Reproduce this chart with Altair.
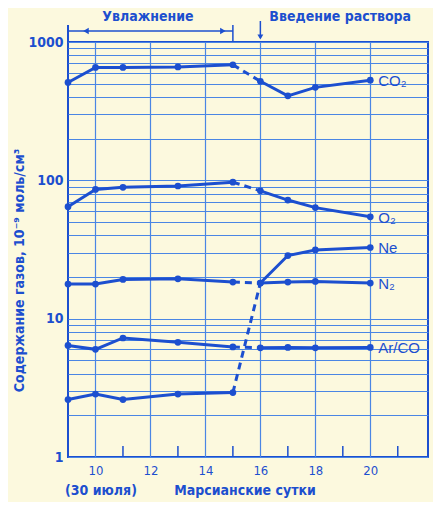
import altair as alt
import pandas as pd

# ---- data ----
days = [9, 10, 11, 13, 15, 16, 17, 18, 20]
series = ["CO₂", "O₂", "Ne", "N₂", "Ar/CO"]
co2 = [510, 655, 655, 660, 685, 520, 408, 470, 530]
o2 = [64.5, 86, 89, 91, 97, 84, 72, 63.5, 54.5]
ne = [2.6, 2.85, 2.6, 2.85, 2.92, 18.1, 28.6, 31.4, 32.7]
n2 = [17.8, 17.8, 19.2, 19.4, 18.4, 18.1, 18.4, 18.6, 18.1]
arco = [6.4, 6.0, 7.25, 6.75, 6.25, 6.15, 6.2, 6.15, 6.2]
last_wet_day = 15          # end of "Увлажнение"
solution_day = 16          # "Введение раствора"
x_ticks = [10, 12, 14, 16, 18, 20]
x_minor = [11, 13, 15, 17, 19, 21]
y_major = [1, 10, 100, 1000]

values = dict(zip(series, [co2, o2, ne, n2, arco]))

rows = []
for s in series:
    for d, v in zip(days, values[s]):
        rows.append({"series": s, "day": d, "value": v,
                     "seg": s + ("_a" if d <= last_wet_day else "_b")})
df = pd.DataFrame(rows)
dash_df = df[(df.day == last_wet_day) | (df.day == solution_day)]
lab_df = df[df.day == days[-1]]

y_vals = [m * 10 ** e for e in range(3) for m in range(1, 10)] + [1000]

BLUE = "#1c4fcf"
GRID = "#4a86e4"
FONT = "DejaVu Sans Condensed"

xs = alt.Scale(domain=[9, 22.1], nice=False, zero=False)
ys = alt.Scale(type="log", domain=[1, 1000], nice=False)

X = alt.X("day:Q", scale=xs, axis=alt.Axis(
    values=x_ticks, grid=True, ticks=False, domain=False, title=None,
    labelFontSize=13, labelPadding=7, labelColor=BLUE, labelFont=FONT,
    gridColor=GRID, gridWidth=1.2))
Y = alt.Y("value:Q", scale=ys, axis=alt.Axis(
    values=y_vals, grid=True, ticks=False, domain=False,
    labelExpr="(datum.value==1||datum.value==10||datum.value==100||datum.value==1000) ? format(datum.value,'d') : ''",
    labelFontSize=14, labelFontWeight="bold", labelFont=FONT, labelColor=BLUE,
    labelPadding=5, gridColor=GRID, gridWidth=1,
    title="Содержание газов, 10⁻⁹ моль/см³", titleFont=FONT,
    titleFontSize=14, titleFontWeight="bold", titleColor=BLUE,
    titlePadding=1, titleY=228))

solid = alt.Chart(df).mark_line(color=BLUE, strokeWidth=3).encode(
    x=X, y=Y, detail="seg:N")
dashed = alt.Chart(dash_df).mark_line(color=BLUE, strokeWidth=3, strokeDash=[7, 5]).encode(
    x="day:Q", y="value:Q", detail="series:N")
pts = alt.Chart(df).mark_point(filled=True, size=45, color=BLUE, opacity=1).encode(
    x="day:Q", y="value:Q")
labels = alt.Chart(lab_df).mark_text(align="left", dx=8, dy=1, fontSize=15,
                                     color=BLUE, font="Liberation Sans").encode(
    x="day:Q", y="value:Q", text="series:N")

minor = alt.Chart(pd.DataFrame({"day": x_minor})).mark_rule(
    color=BLUE, strokeWidth=1.5).encode(x="day:Q", y=alt.value(415), y2=alt.value(404))

# top annotations
ann = pd.DataFrame({"a": [9], "b": [last_wet_day], "c": [solution_day]})
bar_l = alt.Chart(ann).mark_rule(color=BLUE, strokeWidth=2).encode(
    x="a:Q", y=alt.value(-17), y2=alt.value(0))
bar_r = alt.Chart(ann).mark_rule(color=BLUE, strokeWidth=1.5).encode(
    x="b:Q", y=alt.value(-17), y2=alt.value(0))
h_arrow = alt.Chart(ann).mark_rule(color=BLUE, strokeWidth=1.5).encode(
    x="a:Q", x2="b:Q", y=alt.value(-11))
head_l = alt.Chart(ann).mark_point(shape="triangle-left", filled=True, size=40,
                                   color=BLUE, opacity=1).encode(
    x="a:Q", xOffset=alt.value(18), y=alt.value(-11))
head_r = alt.Chart(ann).mark_point(shape="triangle-right", filled=True, size=40,
                                   color=BLUE, opacity=1).encode(
    x="b:Q", xOffset=alt.value(-10), y=alt.value(-11))
t_wet = alt.Chart(ann).mark_text(text="Увлажнение", fontSize=14, fontWeight="bold",
                                 font=FONT, color=BLUE).encode(
    x=alt.value(80), y=alt.value(-25))
v_arrow = alt.Chart(ann).mark_rule(color=BLUE, strokeWidth=1.5).encode(
    x="c:Q", y=alt.value(-21), y2=alt.value(-4))
head_d = alt.Chart(ann).mark_point(shape="triangle-down", filled=True, size=35,
                                   color=BLUE, opacity=1).encode(
    x="c:Q", y=alt.value(-5))
t_sol = alt.Chart(ann).mark_text(text="Введение раствора", fontSize=14, fontWeight="bold",
                                 font=FONT, color=BLUE, align="left").encode(
    x="c:Q", xOffset=alt.value(9), y=alt.value(-25))
t_xt = alt.Chart(ann).mark_text(text="Марсианские сутки", fontSize=14, fontWeight="bold",
                                font=FONT, color=BLUE).encode(
    x=alt.value(177), y=alt.value(449))
t_date = alt.Chart(ann).mark_text(text="(30 июля)", fontSize=14, fontWeight="bold",
                                  font=FONT, color=BLUE).encode(
    x=alt.value(33), y=alt.value(449))

chart = alt.layer(
    solid, dashed, pts, labels, minor,
    bar_l, bar_r, h_arrow, head_l, head_r, t_wet, v_arrow, head_d, t_sol, t_xt, t_date
).properties(
    width=360, height=415,
    autosize=alt.AutoSizeParams(type="none"),
    padding={"left": 60, "top": 34, "right": 5, "bottom": 45},
    background="#fcf9de",
).configure_view(stroke=BLUE, strokeWidth=2)

chart.save("out.html", embed_options={"renderer": "svg", "actions": False})
